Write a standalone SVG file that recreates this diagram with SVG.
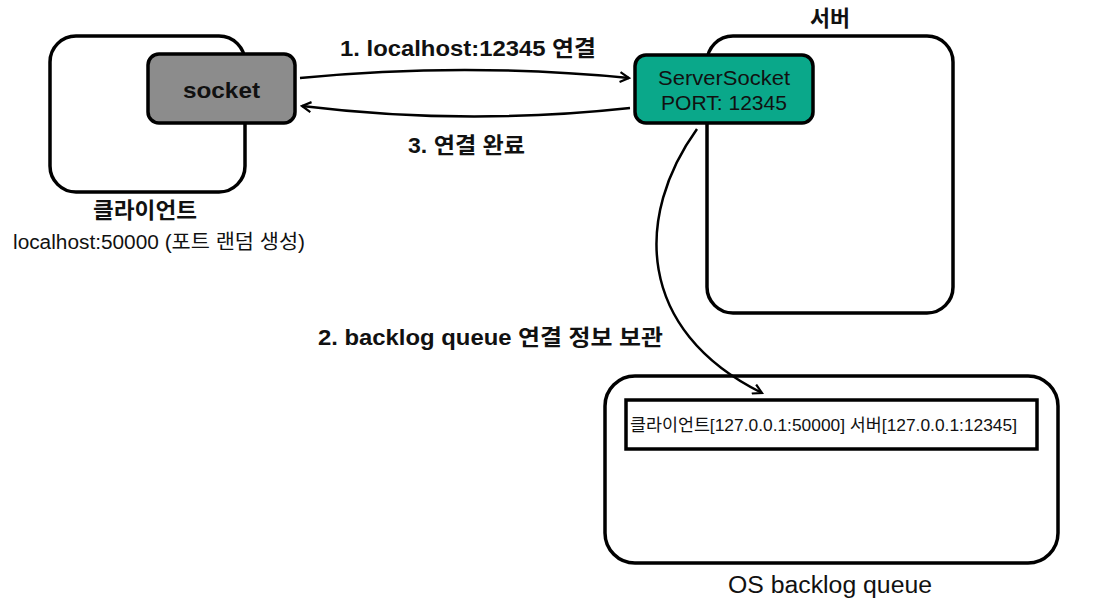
<svg xmlns="http://www.w3.org/2000/svg" width="1094" height="603" viewBox="0 0 1094 603">
<defs>
<style>
.box{fill:#fff;stroke:#000;stroke-width:3.5}
.t{font-family:"Liberation Sans","Noto Sans CJK KR",sans-serif;fill:#111}
.b{font-weight:bold}
.c{stroke:#000;stroke-width:2.5;fill:none}
</style>
<marker id="ah" viewBox="0 0 12 12" refX="10" refY="6" markerWidth="12" markerHeight="12" markerUnits="userSpaceOnUse" orient="auto">
<path d="M1,1 L10,6 L1,11" fill="none" stroke="#000" stroke-width="2.2"/>
</marker>
</defs>
<rect width="1094" height="603" fill="#fff"/>
<g id="client">
<rect class="box" x="50" y="36" width="195" height="156" rx="26"/>
<text class="t b" x="93" y="218" font-size="22" textLength="104" lengthAdjust="spacingAndGlyphs">클라이언트</text>
<text class="t" x="13" y="249" font-size="20" textLength="292" lengthAdjust="spacingAndGlyphs">localhost:50000 (포트 랜덤 생성)</text>
</g>
<g id="server">
<rect class="box" x="707" y="36" width="246" height="277" rx="26"/>
<text class="t b" x="810" y="26" font-size="22" textLength="40" lengthAdjust="spacingAndGlyphs">서버</text>
</g>
<g id="socket">
<rect x="148" y="54" width="147" height="69" rx="11" fill="#8c8c8c" stroke="#000" stroke-width="3.5"/>
<text class="t b" x="183" y="98" font-size="22" textLength="77" lengthAdjust="spacingAndGlyphs">socket</text>
</g>
<g id="serversocket">
<rect x="635" y="55" width="178" height="68" rx="11" fill="#0aa88a" stroke="#000" stroke-width="3.5"/>
<text class="t" x="658" y="85" font-size="21" textLength="132" lengthAdjust="spacingAndGlyphs">ServerSocket</text>
<text class="t" x="661" y="110" font-size="21" textLength="126" lengthAdjust="spacingAndGlyphs">PORT: 12345</text>
</g>
<g id="backlog">
<rect class="box" x="605" y="376" width="453" height="187" rx="30"/>
<rect x="626" y="400" width="411" height="49" fill="#fff" stroke="#000" stroke-width="3.5"/>
<text class="t" x="630" y="431" font-size="17" textLength="387" lengthAdjust="spacingAndGlyphs">클라이언트[127.0.0.1:50000] 서버[127.0.0.1:12345]</text>
<text class="t" x="728" y="593" font-size="23" textLength="204" lengthAdjust="spacingAndGlyphs">OS backlog queue</text>
</g>
<g id="connectors">
<path class="c" d="M300,78 Q465,62 629,78" marker-end="url(#ah)"/>
<path class="c" d="M630,108 Q465,126 302,106" marker-end="url(#ah)"/>
<path class="c" d="M697,129 C635,215 635,330 762,393" marker-end="url(#ah)"/>
<text class="t b" x="340" y="56" font-size="22" textLength="256" lengthAdjust="spacingAndGlyphs">1. localhost:12345 연결</text>
<text class="t b" x="408" y="153" font-size="22" textLength="117" lengthAdjust="spacingAndGlyphs">3. 연결 완료</text>
<text class="t b" x="318" y="345" font-size="22" textLength="345" lengthAdjust="spacingAndGlyphs">2. backlog queue 연결 정보 보관</text>
</g>
</svg>
